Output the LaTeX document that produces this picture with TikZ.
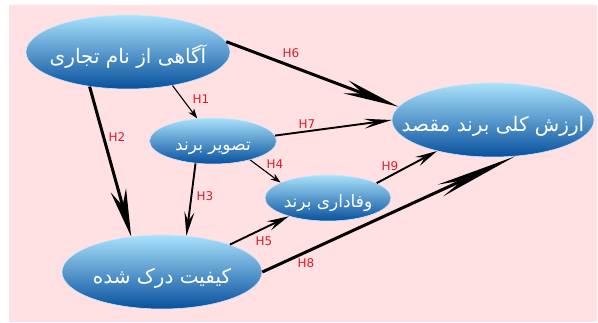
\documentclass[tikz,border=0pt]{standalone}
\usepackage{fontspec}
\usetikzlibrary{shapes.geometric,calc}
\newfontfamily\arabicfont[Script=Arabic]{DejaVu Sans}
\newfontfamily\labfont{DejaVu Sans}
\TeXXeTstate=1
\definecolor{bgpink}{RGB}{255,225,228}
\definecolor{toplight}{RGB}{170,226,251}
\definecolor{midblue}{RGB}{62,145,210}
\definecolor{botdark}{RGB}{8,80,158}
\definecolor{rimc}{RGB}{205,232,248}
\definecolor{hred}{RGB}{215,30,45}
\tikzset{
  bub/.style={ellipse, inner sep=0pt, top color=toplight, middle color=midblue, bottom color=botdark,
    draw=rimc, line width=0.6pt, text=white, text depth=0pt},
  bigbub/.style={bub, minimum width=204pt, minimum height=74pt, text height=22pt, font=\arabicfont\fontsize{20}{24}\selectfont},
  smallbub/.style={bub, minimum width=127pt, minimum height=46pt, text height=18.5pt, font=\arabicfont\fontsize{17}{20}\selectfont},
  hlab/.style={text=hred, font=\labfont\fontsize{12}{14}\selectfont, inner sep=0pt},
  conn/.style={draw=black, line cap=butt},
  headfill/.style={fill=black}
}
% #1 start, #2 tip, #3 head length, #4 half width, #5 notch distance from tip, #6 line width
\newcommand\hyparrow[6]{%
  \path ($(#2)!#3!(#1)$) coordinate (hbk) ($(#2)!#5!(#1)$) coordinate (hin);
  \draw[conn, line width=#6] (#1) -- (hin);
  \fill[headfill] (#2) -- ($(hbk)!#4!90:(#2)$) -- (hin) -- ($(hbk)!#4!-90:(#2)$) -- cycle;
}
\begin{document}
\begin{tikzpicture}[x=1pt,y=-1pt]
\useasboundingbox (0,0) rectangle (598,322);
\fill[white] (0,0) rectangle (598,322);
\fill[bgpink] (9,5) rectangle (597,322);

\node[bigbub] (aw) at (128,52) {\makebox[0pt]{\beginR آگاهی از نام تجاری\endR}};
\node[smallbub] (im) at (213,141) {\makebox[0pt]{\beginR تصویر برند\endR}};
\node[bigbub, minimum width=202pt] (val) at (493,120) {\makebox[0pt]{\beginR ارزش کلی برند مقصد\endR}};
\node[bigbub, minimum width=200pt] (qual) at (162,272) {\makebox[0pt]{\beginR کیفیت درک شده\endR}};
\node[smallbub, minimum width=126pt] (loy) at (328,198) {\makebox[0pt]{\beginR وفاداری برند\endR}};

\hyparrow{aw.6}{val.172}{56pt}{7pt}{38pt}{3pt}
\hyparrow{aw.-37}{im.125}{10pt}{3.5pt}{7pt}{1.1pt}
\hyparrow{aw.-138}{qual.131}{48pt}{8pt}{32pt}{3pt}
\hyparrow{im.5}{val.180}{28pt}{5pt}{17pt}{1.9pt}
\hyparrow{im.-27}{loy.162}{10pt}{3.5pt}{7pt}{1.1pt}
\hyparrow{im.-128}{qual.56}{24pt}{5pt}{15pt}{1.9pt}
\hyparrow{loy.17}{val.209}{22pt}{5pt}{14pt}{1.9pt}
\hyparrow{qual.22}{loy.205}{22pt}{5pt}{14pt}{1.9pt}
\hyparrow{qual.0}{val.-59}{82pt}{6.5pt}{58pt}{3pt}

\node[hlab] (h6) at (291,53) {H6};
\node[hlab] (h1) at (201,99) {H1};
\node[hlab] (h2) at (117,137) {H2};
\node[hlab] (h7) at (307,124) {H7};
\node[hlab] (h4) at (275,164) {H4};
\node[hlab] (h3) at (205,196) {H3};
\node[hlab] (h9) at (390,166) {H9};
\node[hlab] (h5) at (264,241) {H5};
\node[hlab] (h8) at (306,263) {H8};
\end{tikzpicture}
\end{document}
